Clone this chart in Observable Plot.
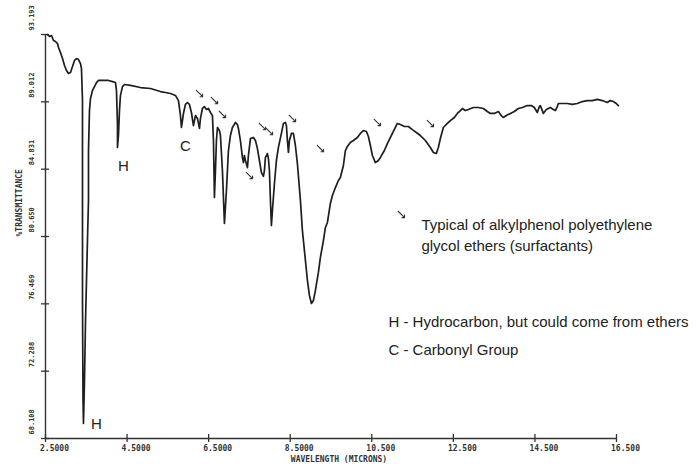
<!DOCTYPE html>
<html><head><meta charset="utf-8">
<script src="https://cdn.jsdelivr.net/npm/d3@7"></script>
<script src="https://cdn.jsdelivr.net/npm/@observablehq/plot@0.6"></script>
<style>
body{margin:0;background:#fff;}
g[aria-label="xlabels"] text{letter-spacing:1.2px;}
g[aria-label="xtitle"] text{letter-spacing:1.7px;}
g[aria-label="ylabels"] text{letter-spacing:-0.3px;}
g[aria-label="ytitle"] text{letter-spacing:0.7px;}
</style></head><body><div id="chart"></div>
<script>
const wavelength = [2.549,2.598,2.647,2.696,2.745,2.794,2.819,2.868,2.917,2.966,3.015,3.064,3.113,3.162,3.211,3.260,3.309,3.358,3.382,3.407,3.407,3.407,3.420,3.431,3.456,3.480,3.505,3.529,3.554,3.554,3.578,3.603,3.652,3.701,3.750,3.799,3.897,4.044,4.142,4.216,4.240,4.265,4.265,4.289,4.314,4.338,4.387,4.436,4.583,4.828,5.074,5.319,5.441,5.564,5.686,5.760,5.809,5.833,5.858,5.882,5.931,5.980,6.029,6.078,6.127,6.177,6.226,6.275,6.299,6.348,6.397,6.446,6.495,6.544,6.593,6.618,6.642,6.667,6.691,6.716,6.765,6.789,6.838,6.887,6.936,6.985,7.034,7.083,7.157,7.206,7.230,7.279,7.328,7.353,7.377,7.402,7.451,7.475,7.525,7.598,7.647,7.696,7.745,7.794,7.843,7.868,7.892,7.941,7.966,7.990,8.015,8.039,8.064,8.113,8.162,8.211,8.284,8.333,8.382,8.407,8.431,8.456,8.480,8.529,8.578,8.627,8.676,8.750,8.799,8.873,8.922,8.971,9.020,9.069,9.118,9.191,9.240,9.314,9.363,9.412,9.485,9.534,9.608,9.681,9.730,9.804,9.853,9.902,9.975,10.049,10.147,10.221,10.294,10.368,10.417,10.466,10.515,10.588,10.662,10.711,10.809,10.882,11.005,11.127,11.201,11.299,11.397,11.495,11.593,11.691,11.814,11.936,12.010,12.083,12.132,12.181,12.255,12.353,12.426,12.524,12.598,12.672,12.721,12.794,12.868,12.990,13.113,13.235,13.333,13.407,13.505,13.603,13.676,13.725,13.799,13.897,13.995,14.093,14.191,14.314,14.412,14.485,14.559,14.608,14.632,14.681,14.706,14.779,14.877,14.951,15.000,15.049,15.074,15.172,15.294,15.417,15.539,15.662,15.784,15.907,16.029,16.152,16.275,16.348,16.422,16.495,16.544];
const transmittance = [93.19,93.07,93.13,92.82,92.76,92.63,92.39,92.07,91.70,91.27,90.96,90.77,90.83,91.21,91.58,91.70,91.64,91.39,91.08,89.09,82.89,76.68,70.47,69.04,71.71,75.25,77.92,80.40,82.89,85.99,88.47,89.22,89.72,89.96,90.21,90.34,90.34,90.34,90.27,90.21,89.72,87.54,86.18,86.92,88.47,89.41,89.96,90.09,90.03,89.90,89.84,89.65,89.59,89.53,89.41,89.09,88.16,87.42,87.85,88.29,88.85,88.97,88.85,88.35,87.54,88.16,87.98,87.36,87.98,88.60,88.72,88.54,88.60,88.35,88.16,86.61,83.07,84.75,86.61,87.42,87.23,86.92,84.75,81.46,83.51,85.99,86.92,87.42,87.73,87.60,87.36,86.61,85.56,85.24,85.68,85.37,84.93,85.68,86.73,86.80,86.61,86.11,85.37,84.62,84.38,84.75,85.56,85.80,85.49,84.75,82.89,81.33,82.27,83.94,85.37,86.18,87.05,87.67,87.73,87.54,86.61,85.87,86.61,87.05,87.05,86.30,85.18,82.89,81.02,79.16,77.92,76.99,76.49,76.68,77.30,78.42,79.35,80.40,81.21,81.52,82.70,83.20,83.69,84.13,84.31,85.06,85.99,86.24,86.49,86.61,86.80,87.05,87.23,87.17,86.86,86.30,85.68,85.24,85.37,85.56,85.99,86.42,87.05,87.67,87.60,87.48,87.48,87.29,87.11,86.92,86.61,86.18,85.87,85.80,86.18,86.73,87.42,87.67,87.85,88.04,88.29,88.47,88.60,88.47,88.54,88.66,88.66,88.60,88.41,88.29,88.29,88.41,88.16,88.04,88.16,88.29,88.41,88.60,88.66,88.78,88.78,88.66,88.35,88.72,88.78,88.47,88.29,88.54,88.66,88.54,88.47,88.72,88.91,88.91,88.91,88.85,88.91,89.03,89.09,89.09,89.16,89.09,88.97,89.09,89.03,88.91,88.78];

const xTicks = [2.5,4.5,6.5,8.5,10.5,12.5,14.5,16.5];
const xTickLabels = ["2.5000","4.5000","6.5000","8.5000","10.500","12.500","14.500","16.500"];
const yTicks = [68.108,72.288,76.469,80.650,84.831,89.012,93.193];
const yTickLabels = ["68.108","72.288","76.469","80.650","84.831","89.012","93.193"];
const xTitle = "WAVELENGTH (MICRONS)";
const yTitle = "%TRANSMITTANCE";

const arrowX = [6.275,6.642,6.838,7.500,7.819,7.990,8.554,9.240,10.637,11.936,11.225];
const arrowY = [89.53,89.09,88.23,84.44,87.48,87.17,87.98,86.11,87.73,87.67,82.02];

const peakLetters = ["H","C","H"];
const peakX = [4.412,5.931,3.750];
const peakY = [85.00,86.24,68.98];

const noteLines = ["Typical of alkylphenol polyethylene","glycol ethers (surfactants)","H - Hydrocarbon, but could come from ethers","C - Carbonyl Group"];
const noteX = [11.716,11.716,10.907,10.907];
const noteY = [81.33,80.03,75.31,73.57];

const spectrum = wavelength.map((w,i)=>({w, t: transmittance[i]}));
const arrows = arrowX.map((x,i)=>({x, y: arrowY[i]}));
const peaks = peakLetters.map((s,i)=>({s, x: peakX[i], y: peakY[i]}));
const notes = noteLines.map((s,i)=>({s, x: noteX[i], y: noteY[i]}));

const mono = "'DejaVu Sans Mono', monospace";
const ink = "#1e1e1e";

const chart = Plot.plot({
  width:700, height:468,
  marginLeft:45, marginRight:84, marginTop:34, marginBottom:30,
  style:{background:"#fff", color:ink},
  x:{domain:[2.5,16.5], axis:null},
  y:{domain:[68.108,93.193], axis:null},
  marks:[
    Plot.ruleX([2.5], {stroke:"#333", strokeWidth:1.4}),
    Plot.ruleY([68.108], {stroke:"#333", strokeWidth:1.4}),
    Plot.ruleX(xTicks, {x:d=>d, stroke:"#333", strokeWidth:1.3, insetTop:400, insetBottom:-4}),
    Plot.ruleY(yTicks, {y:d=>d, stroke:"#333", strokeWidth:1.3, insetLeft:-4, insetRight:567}),
    Plot.line(spectrum, {x:"w", y:"t", stroke:ink, strokeWidth:1.7, strokeLinejoin:"round"}),
    Plot.text(xTicks, {ariaLabel:"xlabels", x:d=>d, text:(d,i)=>xTickLabels[i], frameAnchor:"bottom", dy:12, dx:9, fontFamily:mono, fontSize:8, fontWeight:"bold", fill:"#333"}),
    Plot.text(yTicks, {ariaLabel:"ylabels", y:d=>d, text:(d,i)=>yTickLabels[i], frameAnchor:"left", dx:-14, dy:-4, rotate:-90, textAnchor:"start", fontFamily:mono, fontSize:7, fontWeight:"bold", fill:"#333"}),
    Plot.text([xTitle], {ariaLabel:"xtitle", text:d=>d, frameAnchor:"bottom", dy:23, dx:8, fontFamily:mono, fontSize:8, fontWeight:"bold", fill:"#333"}),
    Plot.text([yTitle], {ariaLabel:"ytitle", text:d=>d, frameAnchor:"left", dx:-26, rotate:-90, fontFamily:mono, fontSize:8, fontWeight:"bold", fill:"#333"}),
    Plot.vector(arrows, {x:"x", y:"y", rotate:135, length:9, shape:"arrow", stroke:"#333", strokeWidth:1.1}),
    Plot.text(peaks, {x:"x", y:"y", text:"s", fontFamily:"'Liberation Sans', Arial", fontSize:15, fill:"#222"}),
    Plot.text(notes, {x:"x", y:"y", text:"s", textAnchor:"start", fontFamily:"'Liberation Sans', Arial", fontSize:15, fill:"#222"})
  ]
});
document.getElementById("chart").appendChild(chart);
</script></body></html>
